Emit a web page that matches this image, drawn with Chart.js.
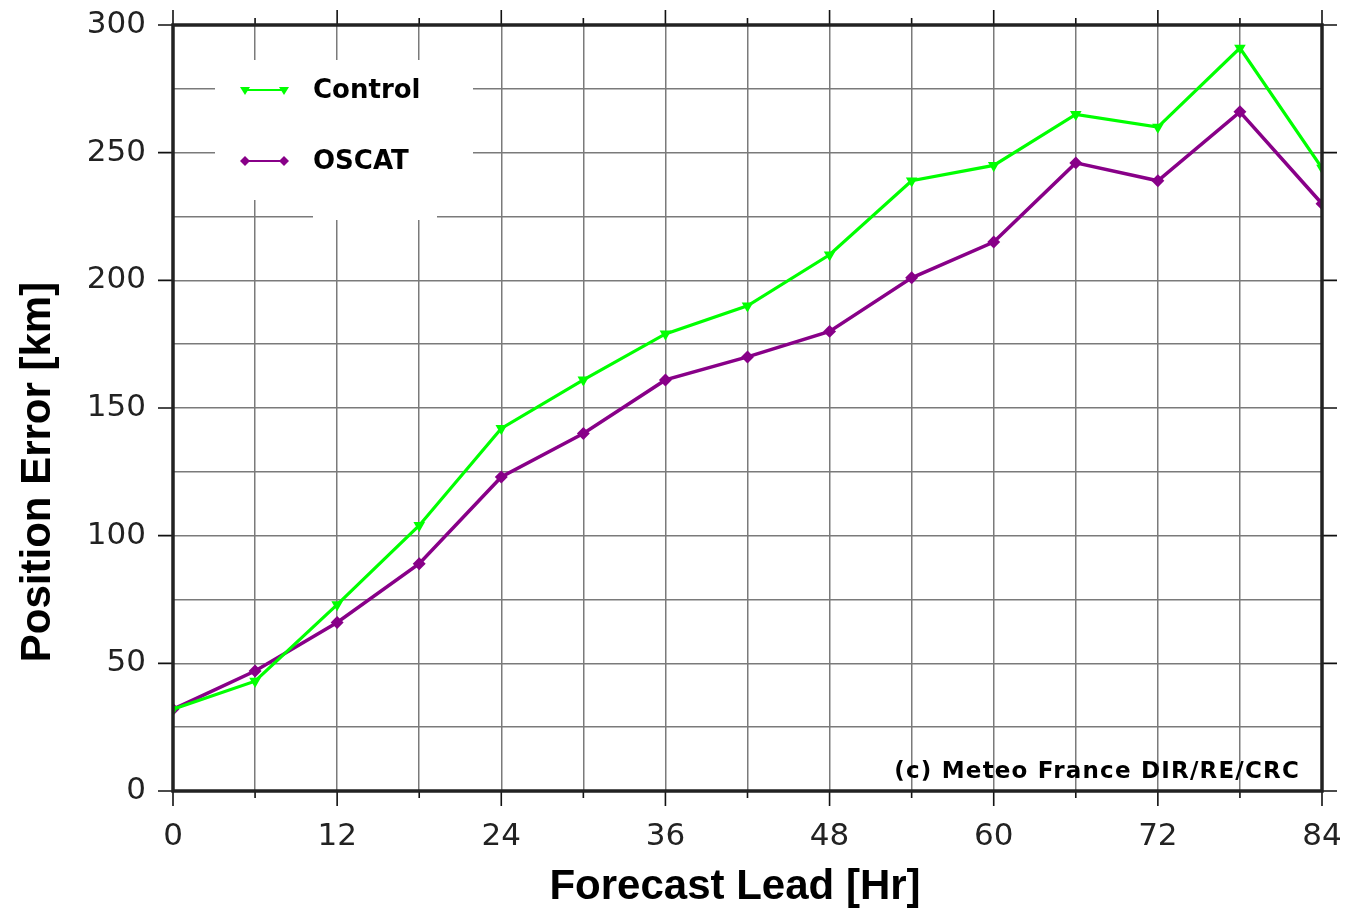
<!DOCTYPE html>
<html>
<head>
<meta charset="utf-8">
<script src="https://cdn.jsdelivr.net/npm/chart.js@4/dist/chart.umd.min.js"></script>
<style>
  html, body { margin: 0; padding: 0; background: #fff; }
  #wrap { width: 1345px; height: 913px; }
</style>
</head>
<body>
<div id="wrap"><canvas id="chart" width="1345" height="913"></canvas></div>
<script>
// forecast lead hours
const leadHours = [0, 6, 12, 18, 24, 30, 36, 42, 48, 54, 60, 66, 72, 78, 84];
// position error in km
const controlErr = [32, 43, 73, 104, 142, 161, 179, 190, 210, 239, 245, 265, 260, 291, 244];
const oscatErr   = [32, 47, 66, 89, 123, 140, 161, 170, 180, 201, 215, 246, 239, 266, 230];
const seriesNames = ['Control', 'OSCAT'];
const seriesColors = ['#00ff00', '#880088'];

const toPoints = (vals) => leadHours.map((h, i) => ({ x: h, y: vals[i] }));

const titleFontCss = 'bold 42px "Liberation Sans", Arial, sans-serif';

// frame, outer tick marks, axis titles, legend box and copyright text
const framePlugin = {
  id: 'frame',
  beforeDatasetsDraw(chart) {
    const { ctx } = chart;
    // legend box covers the grid
    ctx.save();
    ctx.fillStyle = '#fff';
    ctx.fillRect(215, 60, 258, 140);
    ctx.fillRect(313, 195, 124, 25);
    ctx.restore();
  },
  afterDraw(chart) {
    const { ctx, chartArea: a, scales } = chart;
    const xs = scales.x, ys = scales.y;
    ctx.save();
    ctx.strokeStyle = '#111';
    ctx.lineWidth = 1.6;
    ctx.beginPath();
    leadHours.forEach(h => {
      const px = xs.getPixelForValue(h);
      const len = h % 12 === 0 ? 15 : 7;
      ctx.moveTo(px, a.bottom); ctx.lineTo(px, a.bottom + len);
      ctx.moveTo(px, a.top); ctx.lineTo(px, a.top - len);
    });
    for (let v = 0; v <= 300; v += 50) {
      const py = ys.getPixelForValue(v);
      ctx.moveTo(a.left, py); ctx.lineTo(a.left - 15, py);
      ctx.moveTo(a.right, py); ctx.lineTo(a.right + 15, py);
    }
    ctx.stroke();
    ctx.lineWidth = 3.5;
    ctx.strokeStyle = '#222';
    ctx.strokeRect(a.left, a.top, a.right - a.left, a.bottom - a.top);

    // axis titles
    ctx.fillStyle = '#000';
    ctx.font = titleFontCss;
    ctx.textAlign = 'center';
    ctx.textBaseline = 'middle';
    ctx.fillText('Forecast Lead [Hr]', 735, 887);
    ctx.save();
    ctx.translate(38, 472);
    ctx.rotate(-Math.PI / 2);
    ctx.fillText('Position Error [km]', 0, 0);
    ctx.restore();

    // legend entries
    const rows = [90, 161];
    chart.data.datasets.forEach((ds, i) => {
      const y = rows[i];
      ctx.strokeStyle = ds.borderColor;
      ctx.lineWidth = 2;
      ctx.beginPath(); ctx.moveTo(245, y); ctx.lineTo(284, y); ctx.stroke();
      ctx.fillStyle = ds.borderColor;
      [245, 284].forEach(x => {
        ctx.beginPath();
        if (i === 0) {
          ctx.moveTo(x - 5, y - 3); ctx.lineTo(x + 5, y - 3); ctx.lineTo(x, y + 5);
        } else {
          ctx.moveTo(x, y - 5); ctx.lineTo(x + 5, y); ctx.lineTo(x, y + 5); ctx.lineTo(x - 5, y);
        }
        ctx.closePath(); ctx.fill();
      });
      ctx.fillStyle = '#000';
      ctx.font = 'bold 26px "DejaVu Sans", sans-serif';
      ctx.textBaseline = 'middle';
      ctx.textAlign = 'left';
      ctx.fillText(seriesNames[i], 313, y + 1);
    });

    ctx.font = 'bold 23px "DejaVu Sans", sans-serif';
    ctx.letterSpacing = '1.2px';
    ctx.textAlign = 'right';
    ctx.textBaseline = 'alphabetic';
    ctx.fillStyle = '#000';
    ctx.fillText('(c) Meteo France DIR/RE/CRC', 1300, 778);
    ctx.restore();
  }
};

const tickFont = { family: '"DejaVu Sans", sans-serif', size: 31 };

new Chart(document.getElementById('chart'), {
  type: 'line',
  data: {
    datasets: [
      {
        label: seriesNames[0],
        data: toPoints(controlErr),
        borderColor: seriesColors[0],
        backgroundColor: seriesColors[0],
        borderWidth: 3.2,
        pointStyle: 'triangle',
        rotation: 180,
        pointRadius: 3.5,
        tension: 0
      },
      {
        label: seriesNames[1],
        data: toPoints(oscatErr),
        borderColor: seriesColors[1],
        backgroundColor: seriesColors[1],
        borderWidth: 3.5,
        pointStyle: 'rectRot',
        pointRadius: 4,
        tension: 0
      }
    ]
  },
  options: {
    responsive: false,
    animation: false,
    layout: { padding: { left: 0, right: 23, top: 25, bottom: 0 } },
    plugins: {
      legend: { display: false },
      tooltip: { enabled: false }
    },
    scales: {
      x: {
        type: 'linear',
        min: 0, max: 84,
        afterFit: (s) => { s.height = 122; s.paddingLeft = 0; s.paddingRight = 0; },
        grid: { color: '#7a7a7a', lineWidth: 1.5, drawTicks: false },
        border: { display: false },
        ticks: {
          stepSize: 6,
          padding: 27,
          color: '#222',
          font: tickFont,
          callback: (v) => (v % 12 === 0 ? v : '')
        }
      },
      y: {
        min: 0, max: 300,
        afterFit: (s) => { s.width = 173; s.paddingTop = 0; s.paddingBottom = 0; },
        grid: { color: '#7a7a7a', lineWidth: 1.5, drawTicks: false },
        border: { display: false },
        ticks: {
          stepSize: 25,
          padding: 27,
          color: '#222',
          font: tickFont,
          callback: (v) => (v % 50 === 0 ? v : '')
        }
      }
    }
  },
  plugins: [framePlugin]
});
</script>
</body>
</html>
